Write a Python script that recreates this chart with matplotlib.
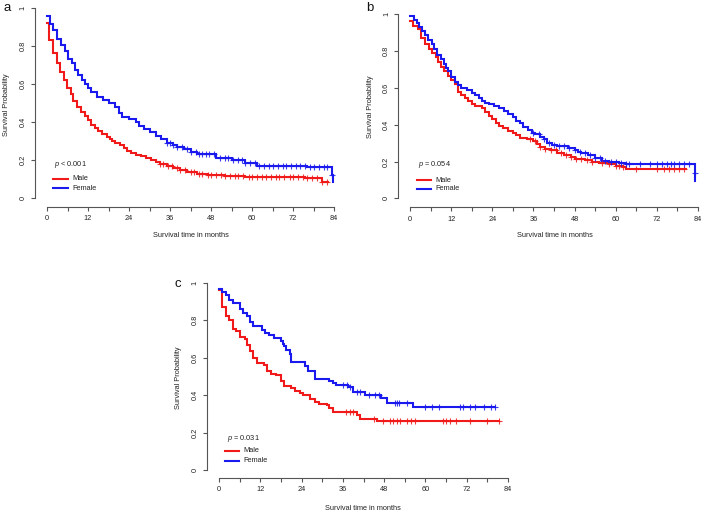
import numpy as np
import matplotlib
matplotlib.use("Agg")
import matplotlib.pyplot as plt
from matplotlib.lines import Line2D

plt.rcParams['font.family'] = ['Liberation Sans', 'DejaVu Sans']
plt.rcParams['mathtext.fontset'] = 'custom'
plt.rcParams['mathtext.it'] = 'Liberation Sans:italic'
plt.rcParams['mathtext.rm'] = 'Liberation Sans'

W, H = 709, 514

# ---------------- data ----------------
x_ticks_minor = list(range(0, 85, 6))
x_tick_labels = ['0', '12', '24', '36', '48', '60', '72', '84']
y_ticks = [0, 0.2, 0.4, 0.6, 0.8, 1]
y_tick_labels = ['0', '0.2', '0.4', '0.6', '0.8', '1']
group_labels = ['Male', 'Female']
p_values = ['< 0.001', '= 0.054', '= 0.031']
panel_letters = ['a', 'b', 'c']

# Panel a
a_male_t = [0, 0.7, 1.7, 2.9, 3.8, 4.9, 5.8, 6.9, 7.7, 8.7, 9.9, 11.1, 12, 13, 14, 15, 16, 17.5,
            18.5, 19, 20, 21.5, 22.5, 23.5, 24.5, 26, 27.5, 29, 30.5, 32, 33, 35, 37, 39, 41, 44,
            47, 52, 58, 75.5, 80.4]
a_male_s = [0.925, 0.835, 0.765, 0.71, 0.665, 0.62, 0.58, 0.55, 0.51, 0.48, 0.455, 0.435, 0.41,
            0.385, 0.37, 0.355, 0.34, 0.325, 0.31, 0.30, 0.29, 0.28, 0.265, 0.25, 0.24, 0.23, 0.22,
            0.21, 0.20, 0.19, 0.18, 0.17, 0.16, 0.15, 0.14, 0.13, 0.12, 0.115, 0.11, 0.105, 0.087]
a_male_end = 82.2
a_male_cens = [33, 34, 35.5, 36.5, 38, 39, 40.5, 42, 43, 44.5, 45.5, 47, 48, 49.5, 51, 52, 53.5,
               55, 56, 57.5, 59, 60, 61.5, 63, 64, 65.5, 67, 68, 69.5, 71, 72, 73.5, 75, 76, 77.5,
               79, 80.5, 82]
a_female_t = [0, 0.9, 1.8, 2.9, 4.1, 5.3, 6.2, 7.2, 8.2, 9.2, 10.2, 11.2, 12.0, 12.8, 14.5, 16.5,
              18, 20, 21, 22, 24, 26, 27, 28.5, 30, 32, 33.5, 35, 37, 38, 40, 42, 44, 49.5, 54,
              58, 61.4, 76, 83.5, 83.6]
a_female_s = [0.96, 0.915, 0.885, 0.84, 0.805, 0.775, 0.735, 0.71, 0.675, 0.65, 0.625, 0.60,
              0.58, 0.56, 0.535, 0.515, 0.50, 0.48, 0.45, 0.43, 0.415, 0.40, 0.38, 0.365, 0.35,
              0.33, 0.31, 0.29, 0.28, 0.27, 0.26, 0.245, 0.232, 0.21, 0.20, 0.185, 0.172, 0.163,
              0.12, 0.085]
a_female_end = 83.6
a_female_cens = [35, 36, 37, 38, 39.5, 41, 42, 43.5, 44.5, 45.5, 46.5, 47.5, 49, 50.5, 52, 53,
                 54.5, 56, 57, 58, 59.5, 61, 62, 63.5, 65, 66, 67.5, 69, 70, 71.5, 73, 74, 75.5,
                 77, 78, 79.5, 81, 82, 83.5]

# Panel b
b_male_t = [0, 0.8, 2.2, 3.2, 4.5, 5.5, 6.5, 7.5, 8.3, 9, 10, 11, 12, 13, 14, 15, 16, 17, 18,
            19, 21, 22, 23, 24, 25, 26, 27, 28.5, 30, 31, 32, 34, 36, 37, 38, 39.5, 41, 43, 45,
            47, 48, 51, 53, 55, 58, 60, 62, 63]
b_male_s = [0.965, 0.935, 0.92, 0.87, 0.84, 0.81, 0.79, 0.77, 0.74, 0.715, 0.69, 0.665, 0.645,
            0.62, 0.58, 0.56, 0.545, 0.53, 0.515, 0.50, 0.49, 0.47, 0.45, 0.43, 0.41, 0.395, 0.38,
            0.365, 0.355, 0.345, 0.33, 0.32, 0.31, 0.295, 0.28, 0.27, 0.26, 0.245, 0.235, 0.225,
            0.215, 0.21, 0.20, 0.19, 0.185, 0.175, 0.17, 0.16]
b_male_end = 80.6
b_male_cens = [35, 36.5, 38, 39.5, 41, 42.5, 44, 45.5, 47, 48.5, 50, 51.5, 53, 56, 58, 60, 61,
               62, 66, 72, 74, 75.5, 77, 78.5, 80]
b_female_t = [0, 1.3, 2, 2.5, 3.5, 4.5, 5.3, 6.3, 7, 8, 9, 10, 10.5, 11, 12, 13, 14, 15, 16.5,
              18, 19, 20, 21, 22, 23, 24.5, 26, 27.5, 28.5, 30, 31, 32, 33, 34.5, 35.5, 36.5, 38,
              39, 40, 41.5, 43, 46, 48, 49, 50, 52, 54, 56, 58, 61, 63, 64, 83.0, 83.1]
b_female_s = [0.993, 0.97, 0.955, 0.93, 0.91, 0.89, 0.86, 0.84, 0.81, 0.78, 0.755, 0.73, 0.71,
              0.69, 0.66, 0.63, 0.615, 0.60, 0.59, 0.575, 0.56, 0.545, 0.53, 0.52, 0.51, 0.50,
              0.49, 0.475, 0.46, 0.44, 0.42, 0.41, 0.39, 0.37, 0.355, 0.35, 0.335, 0.32, 0.30,
              0.29, 0.285, 0.275, 0.265, 0.25, 0.245, 0.235, 0.22, 0.205, 0.20, 0.19, 0.185,
              0.185, 0.135, 0.095]
b_female_end = 83.1
b_female_cens = [36, 37.5, 39, 40.5, 42, 43.5, 45, 46.5, 48, 49.5, 51, 52.5, 54, 55.5, 57, 58.5,
                 60, 61.5, 63, 64, 67, 70, 72, 73.5, 75, 76, 77, 78.5, 80, 81.5, 83.0]

# Panel c
c_male_t = [0, 0.8, 2, 3, 4, 5, 6, 7.5, 8, 9, 10, 11, 13, 14, 15, 16.5, 18, 19, 21, 22, 23.5,
            24.5, 26.5, 28, 29, 31.5, 32, 33, 40, 41, 46]
c_male_s = [0.96, 0.87, 0.82, 0.80, 0.755, 0.74, 0.71, 0.70, 0.665, 0.635, 0.60, 0.57, 0.56,
            0.53, 0.515, 0.505, 0.475, 0.45, 0.44, 0.42, 0.41, 0.40, 0.38, 0.365, 0.355, 0.345,
            0.33, 0.31, 0.295, 0.27, 0.26]
c_male_end = 81.3
c_male_cens = [37, 38, 39, 45, 47.8, 49.8, 50.7, 51.7, 52.7, 54.6, 55.8, 57, 65, 66, 67, 69, 73,
               77.9, 81.3]
c_female_t = [0, 1, 2, 3, 4, 6, 7, 8, 9, 10, 12.5, 13.5, 14.5, 16, 18, 18.5, 19, 19.5, 20.5, 21,
              25, 26, 28, 32, 33, 34, 37.5, 39, 42.5, 47, 48.8, 56.3]
c_female_s = [0.965, 0.95, 0.935, 0.91, 0.89, 0.86, 0.84, 0.82, 0.79, 0.77, 0.75, 0.73, 0.72,
              0.705, 0.69, 0.675, 0.66, 0.64, 0.62, 0.575, 0.555, 0.53, 0.485, 0.475, 0.465,
              0.455, 0.445, 0.415, 0.40, 0.385, 0.36, 0.335]
c_female_end = 80.3
c_female_cens = [36, 37.2, 38.1, 40, 41, 43.5, 45.4, 46.4, 51.2, 51.7, 52.2, 54.6, 60, 62, 63.8,
                 70, 71, 73, 74.5, 77, 79, 80.3]

RED = '#f01a1a'
BLUE = '#1a1aee'
TXT = '#222222'
AX = '#555555'
FS = 5.3


def surv_at(times, vals, t):
    times = np.asarray(times)
    idx = np.searchsorted(times, t, side='right') - 1
    return np.asarray(vals)[np.clip(idx, 0, len(vals) - 1)]


def make_axes(fig, x0, x84, y0, y1, spine_l, spine_b):
    pxm = (x84 - x0) / 84.0
    padx = (x0 - spine_l) / pxm
    pxu = (y0 - y1)
    pady = (spine_b - y0) / pxu
    left = spine_l
    right = x84 + (x0 - spine_l)
    bottom = spine_b
    top = y1 - (spine_b - y0)
    ax = fig.add_axes([left / W, 1 - bottom / H, (right - left) / W, (bottom - top) / H])
    ax.set_xlim(-padx, 84 + padx)
    ax.set_ylim(-pady, 1 + pady)
    ax.patch.set_alpha(0)
    for s in ['top', 'right']:
        ax.spines[s].set_visible(False)
    for s in ['left', 'bottom']:
        ax.spines[s].set_color(AX)
        ax.spines[s].set_linewidth(0.8)
    ax.spines['left'].set_bounds(0, 1)
    ax.spines['bottom'].set_bounds(0, 84)
    ax.set_xticks(x_ticks_minor)
    ax.set_xticklabels([str(v) if v % 12 == 0 else '' for v in x_ticks_minor])
    ax.set_yticks(y_ticks)
    ax.set_yticklabels(y_tick_labels, rotation=90, va='center')
    ax.tick_params(axis='both', length=3, width=0.8, color=AX, labelsize=FS, labelcolor=TXT)
    ax.tick_params(axis='x', pad=3.3)
    ax.tick_params(axis='y', pad=3.0)
    return ax


def draw_curve(ax, t, s, end, cens, color):
    tt = np.r_[t, end]
    ss = np.r_[s, s[-1]]
    ax.step(tt, ss, where='post', color=color, lw=1.5, solid_joinstyle='miter', zorder=3)
    cy = surv_at(t, s, np.asarray(cens))
    ax.plot(cens, cy, ls='none', marker='+', ms=4.5, mew=0.8, color=color, alpha=0.85, zorder=4)


fig = plt.figure(figsize=(W / 100, H / 100), dpi=100)

panels = [
    dict(geom=(47, 334, 198.3, 8.3, 35, 206.7),
         male=(a_male_t, a_male_s, a_male_end, a_male_cens),
         female=(a_female_t, a_female_s, a_female_end, a_female_cens),
         letter=(7, 8), ylab=(6, 105), xlab=(191, 236),
         ptxt=(54, 165), leg=(53, 68, 179, 188, 72)),
    dict(geom=(410, 698, 198.3, 14.3, 398.3, 207),
         male=(b_male_t, b_male_s, b_male_end, b_male_cens),
         female=(b_female_t, b_female_s, b_female_end, b_female_cens),
         letter=(370, 8), ylab=(370, 107), xlab=(555, 236),
         ptxt=(418, 165), leg=(417, 431, 180, 189, 435)),
    dict(geom=(219, 508, 470, 282.7, 207, 477.7),
         male=(c_male_t, c_male_s, c_male_end, c_male_cens),
         female=(c_female_t, c_female_s, c_female_end, c_female_cens),
         letter=(178, 284), ylab=(178, 378), xlab=(363, 508),
         ptxt=(227, 438), leg=(225, 239, 451, 461, 243)),
]

for i, P in enumerate(panels):
    ax = make_axes(fig, *P['geom'])
    draw_curve(ax, *P['male'], RED)
    draw_curve(ax, *P['female'], BLUE)
    lx, ly = P['letter']
    fig.text(lx / W, 1 - ly / H, panel_letters[i], fontsize=9.5, ha='center', va='center',
             color='#111111')
    yx, yy = P['ylab']
    fig.text(yx / W, 1 - yy / H, 'Survival Probability', fontsize=FS, rotation=90,
             ha='center', va='center', color=TXT)
    xx, xy = P['xlab']
    fig.text(xx / W, 1 - xy / H, 'Survival time in months', fontsize=FS, ha='center',
             va='center', color=TXT)
    px, py = P['ptxt']
    fig.text(px / W, 1 - py / H, r'$\it{p}$ ' + p_values[i], fontsize=FS, ha='left',
             va='center', color=TXT)
    l1, l2, ym, yf, tx = P['leg']
    for yv, col, lab in [(ym, RED, group_labels[0]), (yf, BLUE, group_labels[1])]:
        fig.add_artist(Line2D([l1 / W, l2 / W], [1 - yv / H, 1 - yv / H], color=col, lw=1.5,
                              transform=fig.transFigure))
        fig.text(tx / W, 1 - yv / H, lab, fontsize=FS, ha='left', va='center', color=TXT)

fig.savefig('out.png', dpi=100)
